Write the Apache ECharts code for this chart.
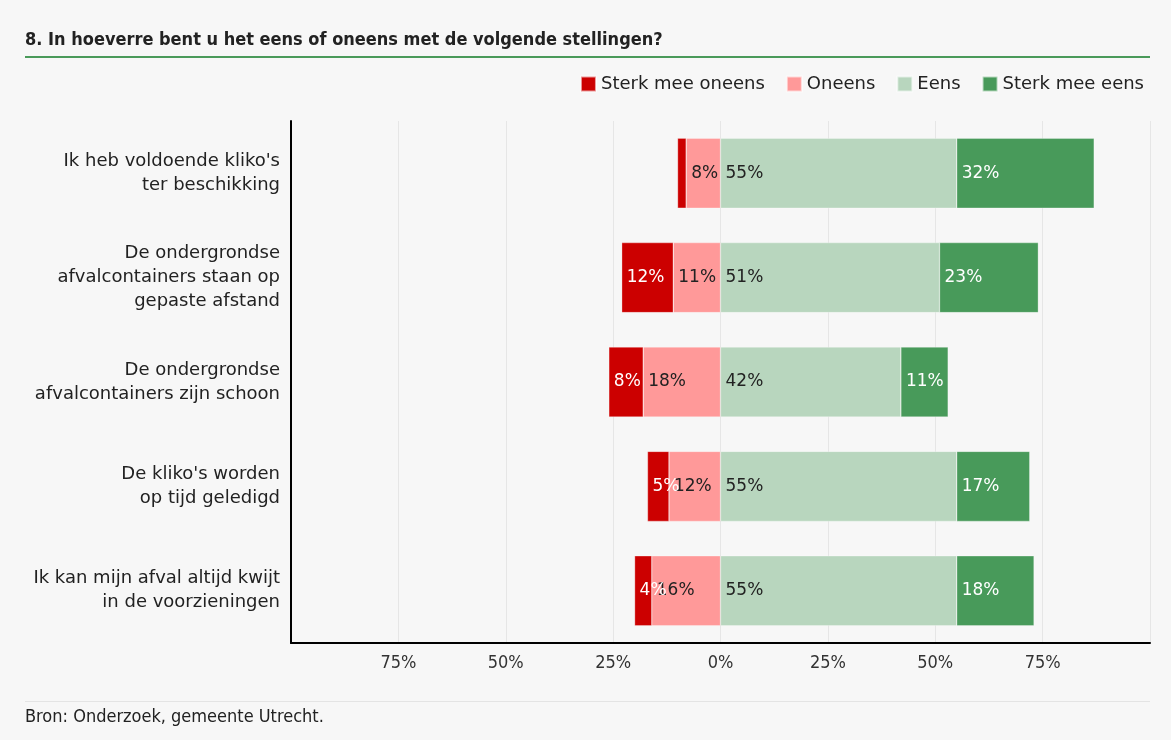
<!DOCTYPE html>
<html>
<head>
<meta charset="utf-8">
<script src="https://cdn.jsdelivr.net/npm/echarts@6/dist/echarts.min.js"></script>
<style>
html,body{margin:0;padding:0;background:#f7f7f7;}
#chart{width:1171px;height:740px;}
</style>
</head>
<body>
<div id="chart"></div>
<script>
var categories = [
  "Ik heb voldoende kliko's\nter beschikking",
  "De ondergrondse\nafvalcontainers staan op\ngepaste afstand",
  "De ondergrondse\nafvalcontainers zijn schoon",
  "De kliko's worden\nop tijd geledigd",
  "Ik kan mijn afval altijd kwijt\nin de voorzieningen"
];
var sterkOneens = [2, 12, 8, 5, 4];
var oneens = [8, 11, 18, 12, 16];
var eens = [55, 51, 42, 55, 55];
var sterkEens = [32, 23, 11, 17, 18];
var hiddenLabels = {"Sterk mee oneens": [0]};
var seriesNames = ["Sterk mee oneens", "Oneens", "Eens", "Sterk mee eens"];
var colors = {"Sterk mee oneens": "#cc0000", "Oneens": "#ff9999", "Eens": "#b8d6be", "Sterk mee eens": "#489a5a"};
var labelColors = {"Sterk mee oneens": "#ffffff", "Oneens": "#222222", "Eens": "#222222", "Sterk mee eens": "#ffffff"};

function mk(name, vals, sign) {
  var hide = hiddenLabels[name] || [];
  return {
    name: name,
    type: 'bar',
    stack: 'total',
    barWidth: 70,
    itemStyle: {color: colors[name], borderColor: 'rgba(255,255,255,0.6)', borderWidth: 0.5},
    label: {
      show: true,
      position: 'insideLeft',
      distance: 5,
      color: labelColors[name],
      fontFamily: 'DejaVu Sans',
      fontSize: 17,
      formatter: function (p) { return Math.abs(p.value) + '%'; }
    },
    emphasis: {disabled: true},
    data: vals.map(function (v, i) {
      var d = {value: sign * v};
      if (hide.indexOf(i) >= 0) d.label = {show: false};
      return d;
    })
  };
}

var chart = echarts.init(document.getElementById('chart'));
chart.setOption({
  backgroundColor: '#f7f7f7',
  animation: false,
  color: seriesNames.map(function (n) { return colors[n]; }),
  legend: {
    data: seriesNames,
    right: 22,
    top: 70,
    itemWidth: 15,
    itemHeight: 15,
    itemGap: 21,
    icon: 'rect',
    textStyle: {fontFamily: 'DejaVu Sans', fontSize: 18, color: '#222'}
  },
  graphic: [
    {type: 'text', left: 25, top: 31, style: {text: '8. In hoeverre bent u het eens of oneens met de volgende stellingen?', font: 'bold 18px "DejaVu Sans Condensed", sans-serif', fill: '#222'}},
    {type: 'rect', shape: {x: 25, y: 56, width: 1125, height: 2}, style: {fill: '#4a9a5a'}},
    {type: 'rect', shape: {x: 25, y: 701, width: 1125, height: 1}, style: {fill: '#e4e4e4'}},
    {type: 'text', left: 25, top: 708, style: {text: 'Bron: Onderzoek, gemeente Utrecht.', font: '18px "DejaVu Sans Condensed", sans-serif', fill: '#222'}}
  ],
  grid: {left: 291, right: 21, top: 121, bottom: 97, containLabel: false},
  xAxis: {
    type: 'value',
    min: -100,
    max: 100,
    interval: 25,
    axisLine: {show: true, lineStyle: {color: '#000', width: 2}},
    axisTick: {show: false},
    splitLine: {show: true, lineStyle: {color: '#e6e6e6', width: 1}},
    axisLabel: {
      margin: 11,
      color: '#333',
      fontFamily: 'DejaVu Sans Condensed',
      fontSize: 18,
      formatter: function (v) { return Math.abs(v) === 100 ? '' : Math.abs(v) + '%'; }
    }
  },
  yAxis: {
    type: 'category',
    inverse: true,
    data: categories,
    axisLine: {show: true, onZero: false, lineStyle: {color: '#000', width: 2}},
    axisTick: {show: false},
    axisLabel: {margin: 11, color: '#222', fontFamily: 'DejaVu Sans', fontSize: 18, lineHeight: 24, align: 'right'}
  },
  series: [
    mk('Oneens', oneens, -1),
    mk('Sterk mee oneens', sterkOneens, -1),
    mk('Eens', eens, 1),
    mk('Sterk mee eens', sterkEens, 1)
  ]
});
</script>
</body>
</html>
